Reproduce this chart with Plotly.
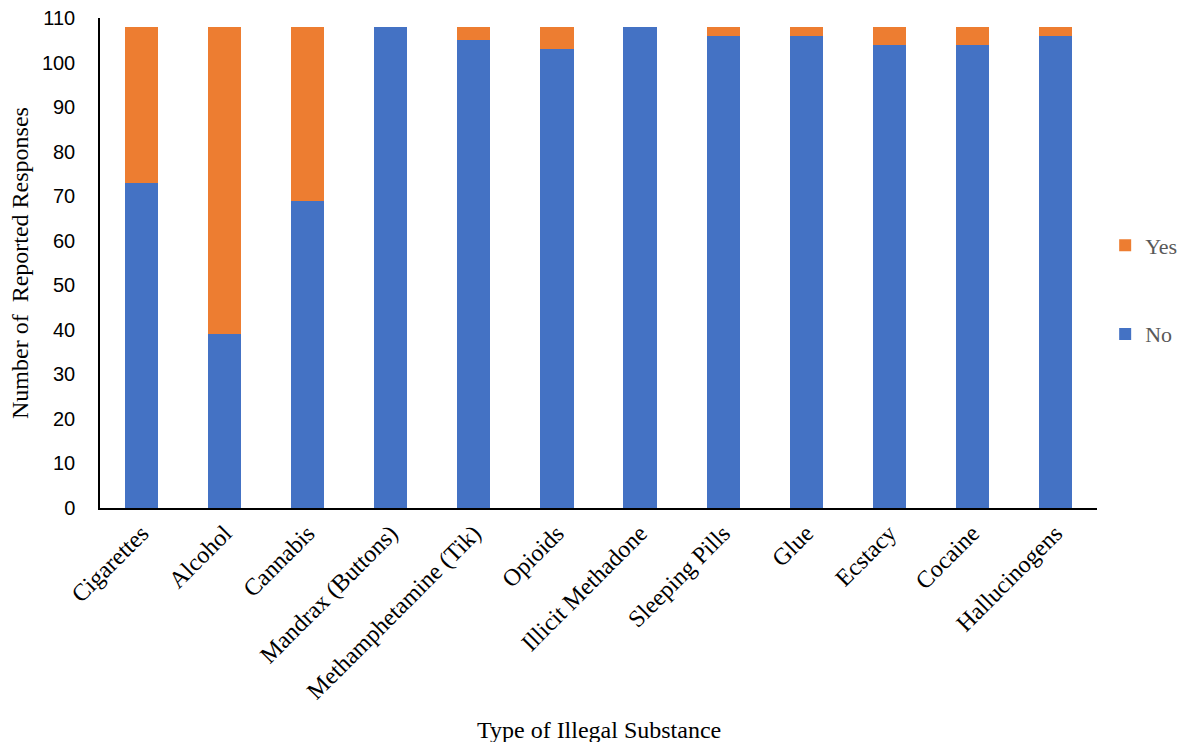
import plotly.graph_objects as go

categories = ["Cigarettes", "Alcohol", "Cannabis", "Mandrax (Buttons)", "Methamphetamine (Tik)",
              "Opioids", "Illicit Methadone", "Sleeping Pills", "Glue", "Ecstacy", "Cocaine", "Hallucinogens"]
no_values = [73, 39, 69, 108, 105, 103, 108, 106, 106, 104, 104, 106]
yes_values = [35, 69, 39, 0, 3, 5, 0, 2, 2, 4, 4, 2]

fig = go.Figure()
fig.add_trace(go.Bar(x=categories, y=no_values, name="No", marker_color="#4472C4",
                     marker_line_width=0, legendgroup="no", legendrank=2))
fig.add_trace(go.Bar(x=categories, y=yes_values, name="Yes", marker_color="#ED7D31",
                     marker_line_width=0, legendgroup="yes", legendrank=1))

fig.update_layout(
    barmode="stack",
    bargap=0.6,
    width=1182, height=742,
    margin=dict(l=100, r=85, t=18, b=234, autoexpand=False),
    plot_bgcolor="white", paper_bgcolor="white",
    font=dict(family="Liberation Serif", color="black"),
    showlegend=True,
    legend=dict(xref="container", yref="container", x=0.935, y=(742 - 290) / 742,
                xanchor="left", yanchor="middle",
                traceorder="grouped", tracegroupgap=57,
                font=dict(family="Liberation Serif", size=22, color="#595959"),
                itemwidth=30),
    annotations=[
        dict(text="Type of Illegal Substance", xref="paper", yref="paper",
             x=0.5, y=(508 - 730) / 490, xanchor="center", yanchor="middle", showarrow=False,
             font=dict(family="Liberation Serif", size=24, color="black")),
        dict(text="Number of  Reported Responses", xref="paper", yref="paper",
             x=(20 - 100) / 997, y=(508 - 263) / 490, xanchor="center", yanchor="middle",
             showarrow=False, textangle=-90,
             font=dict(family="Liberation Serif", size=24, color="black")),
    ],
)
fig.update_xaxes(
    showline=True, linecolor="black", linewidth=1.5,
    tickangle=-45, tickfont=dict(family="Liberation Serif", size=24, color="black"),
    ticks="", showgrid=False,
)
fig.update_yaxes(
    range=[0, 110], dtick=10, showline=True, linecolor="black", linewidth=1.5,
    showgrid=False, zeroline=False, ticks="", ticklabelstandoff=19,
    tickfont=dict(family="Liberation Sans", size=20, color="black"),
)

fig.write_html("out.html")
